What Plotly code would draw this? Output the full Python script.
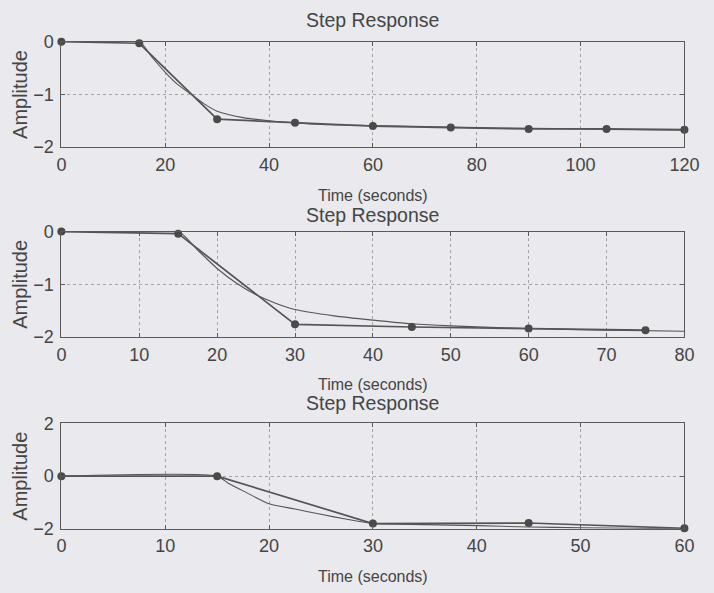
import plotly.graph_objects as go

# ---- data ----
# Plot 1
t1_cont = [0, 15, 17.5, 20, 22.5, 25, 27.5, 30, 35, 40, 45, 50, 60, 70, 80, 90, 100, 110, 120]
y1_cont = [0, 0, -0.30, -0.58, -0.82, -1.00, -1.18, -1.32, -1.44, -1.50, -1.54, -1.57, -1.59, -1.61, -1.63, -1.645, -1.655, -1.67, -1.68]
t1_disc = [0, 15, 30, 45, 60, 75, 90, 105, 120]
y1_disc = [0, -0.03, -1.47, -1.54, -1.60, -1.63, -1.655, -1.655, -1.67]

# Plot 2
t2_cont = [0, 15, 17.5, 20, 22.5, 25, 27.5, 30, 35, 40, 45, 50, 60, 70, 80]
y2_cont = [0, 0, -0.35, -0.70, -0.98, -1.20, -1.36, -1.48, -1.60, -1.68, -1.75, -1.79, -1.84, -1.87, -1.89]
t2_disc = [0, 15, 30, 45, 60, 75]
y2_disc = [0, -0.04, -1.76, -1.81, -1.84, -1.87]

# Plot 3
t3_cont = [0, 15, 16, 17.5, 20, 22.5, 25, 27.5, 30, 35, 40, 45, 50, 55, 60]
y3_cont = [0, 0, -0.25, -0.56, -1.05, -1.25, -1.45, -1.64, -1.80, -1.84, -1.88, -1.93, -1.96, -1.98, -2.0]
t3_disc = [0, 15, 30, 45, 60]
y3_disc = [0, 0, -1.80, -1.78, -1.98]

x_ranges = [[0, 120], [0, 80], [0, 60]]
x_ticks = [[0, 20, 40, 60, 80, 100, 120], [0, 10, 20, 30, 40, 50, 60, 70, 80], [0, 10, 20, 30, 40, 50, 60]]
y_ranges = [[-2, 0], [-2, 0], [-2, 2]]
y_ticks = [[-2, -1, 0], [-2, -1, 0], [-2, 0, 2]]

title_text = "Step Response"
xlabel_text = "Time (seconds)"
ylabel_text = "Amplitude"

# ---- layout constants (figure pixels) ----
W, H = 714, 593
BG = "#e9e9ee"
INK = "#454545"
LINE = "#555555"
FONT = "Liberation Sans, Arial, sans-serif"

x_left, x_right = 58, 699
plot_px = [(32.8, 141.9), (229.3, 338.4), (427.9, 536.9)]   # top, bottom
title_px = [10.5, 212, 407]
xlabel_px = [192, 387.5, 586]
ylabel_x = 16

fig = go.Figure()

series = [
    (t1_cont, y1_cont, t1_disc, y1_disc),
    (t2_cont, y2_cont, t2_disc, y2_disc),
    (t3_cont, y3_cont, t3_disc, y3_disc),
]

annotations = []
for i, (tc, yc, td, yd) in enumerate(series):
    xa = "x" if i == 0 else f"x{i+1}"
    ya = "y" if i == 0 else f"y{i+1}"
    fig.add_trace(go.Scatter(x=tc, y=yc, mode="lines", line=dict(color=LINE, width=1.1, shape="spline", smoothing=0.6),
                             xaxis=xa, yaxis=ya, showlegend=False, hoverinfo="skip"))
    fig.add_trace(go.Scatter(x=td, y=yd, mode="lines+markers", line=dict(color=LINE, width=1.7),
                             marker=dict(color="#4a4a4a", size=8),
                             xaxis=xa, yaxis=ya, showlegend=False, hoverinfo="skip", cliponaxis=False))
    top, bot = plot_px[i]
    axis_common = dict(showline=True, linecolor="#5a5a5a", linewidth=1, mirror="ticks",
                       ticks="inside", ticklen=4, tickcolor="#5a5a5a",
                       showgrid=True, gridcolor="#a4a4a4", griddash="dot", gridwidth=1,
                       zeroline=False, tickfont=dict(family=FONT, size=18, color=INK))
    fig.update_layout(**{
        ("xaxis" if i == 0 else f"xaxis{i+1}"): dict(
            domain=[x_left / W, x_right / W], anchor=ya, range=x_ranges[i],
            tickvals=x_ticks[i], ticklabelstandoff=1, ticklabeloverflow="allow", **axis_common),
        ("yaxis" if i == 0 else f"yaxis{i+1}"): dict(
            domain=[1 - bot / H, 1 - top / H], anchor=xa, range=y_ranges[i],
            tickvals=y_ticks[i], ticklabelstandoff=3, **axis_common),
    })
    cx = (x_left + x_right) / 2 / W
    annotations.append(dict(text=title_text, x=cx, y=1 - title_px[i] / H,
                            xref="paper", yref="paper", showarrow=False, xanchor="center", yanchor="middle",
                            font=dict(family=FONT, size=19.5, color=INK)))
    annotations.append(dict(text=xlabel_text, x=cx, y=1 - xlabel_px[i] / H,
                            xref="paper", yref="paper", showarrow=False, xanchor="center", yanchor="middle",
                            font=dict(family=FONT, size=16, color=INK)))
    annotations.append(dict(text=ylabel_text, x=ylabel_x / W, y=1 - (top + bot) / 2 / H,
                            xref="paper", yref="paper", showarrow=False, xanchor="center", yanchor="middle",
                            textangle=-90, font=dict(family=FONT, size=20, color=INK)))

fig.update_layout(width=W, height=H, margin=dict(l=0, r=0, t=0, b=0),
                  paper_bgcolor=BG, plot_bgcolor=BG, annotations=annotations)

fig.write_html("out.html", config={"displayModeBar": False},
               post_script=f"document.body.style.margin='0';document.body.style.overflow='hidden';"
                           f"document.body.style.background='{BG}';")
